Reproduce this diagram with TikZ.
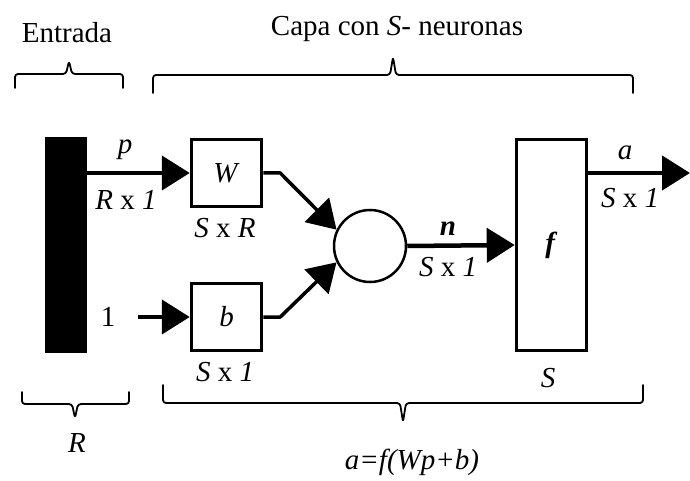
\documentclass[tikz,border=0pt]{standalone}
\usepackage{fontspec}
\setmainfont{Liberation Serif}
\usetikzlibrary{arrows.meta}
\begin{document}
\begin{tikzpicture}[x=1pt,y=-1pt,
  lbl/.style={font=\fontsize{29}{32}\selectfont, inner sep=0pt},
  blk/.style={draw, line width=3.5pt, inner sep=0pt, font=\fontsize{29}{32}\selectfont},
  conn/.style={line width=4.5pt, line join=round, -{Triangle[length=28pt,width=34pt]}},
  brace/.style={line width=1.8pt, line cap=round, line join=round, rounded corners=3pt},
]
\useasboundingbox (0,0) rectangle (690,481);
% blocks
\node[fill=black, minimum width=42pt, minimum height=216pt, inner sep=0pt] (bar) at (66,245) {};
\node[blk, minimum width=70pt, minimum height=67pt] (W) at (226.5,173) {\textit{W}};
\node[blk, minimum width=70pt, minimum height=67pt] (b) at (226.5,317) {\textit{b}};
\node[draw, circle, line width=2.5pt, minimum size=72pt, inner sep=0pt] (sum) at (370,246) {};
\node[blk, minimum width=70pt, minimum height=211pt] (f) at (551.5,245) {\textbf{\textit{f}}};
\coordinate (out) at (690,173);
% labels
\node[lbl] (entrada) at (67,33) {Entrada};
\node[lbl] (capa) at (397,29) {Capa con \textit{S}- neuronas};
\node[lbl] (one) at (108,317) {1};
\node[lbl] (plbl) at (125,150) {\textit{p}};
\node[lbl] (rx1) at (126,200) {\textit{R} x \textit{1}};
\node[lbl] (sxr) at (225,228) {\textit{S} x \textit{R}};
\node[lbl] (sx1b) at (225,372) {\textit{S} x \textit{1}};
\node[lbl] (nlbl) at (448,229) {\textbf{\textit{n}}};
\node[lbl] (sx1n) at (448,267) {\textit{S} x \textit{1}};
\node[lbl] (albl) at (625,153) {\textit{a}};
\node[lbl] (sx1a) at (630,198) {\textit{S} x \textit{1}};
\node[lbl] (slbl) at (548,378) {\textit{S}};
\node[lbl] (rlbl) at (77,443) {\textit{R}};
\node[lbl] (eq) at (412,462) {\textit{a=f(Wp+b)}};
% connectors
\draw[conn] (bar.east |- W.west) -- (W.west);
\draw[conn] ([xshift=23pt]one.east) -- (b.west);
\draw[conn, line width=3.5pt] (W.east) -- ++(17,0) -- (sum.154);
\draw[conn, line width=3.5pt] (b.east) -- ++(17,0) -- (sum.206);
\draw[conn] (sum.east) -- (f.west);
\draw[conn] (f.east |- W.east) -- (out);
% braces
\draw[brace] (15,88) |- (66,74) -- (69,61) -- (72,74) -| (123,88);
\draw[brace] (153,93) |- (390,75) -- (393,57) -- (396,75) -| (633,93);
\draw[brace] (22,392) |- (72,404) -- (75,418) -- (78,404) -| (129,392);
\draw[brace] (163,385) |- (400,403) -- (403,422) -- (406,403) -| (643,385);
\end{tikzpicture}
\end{document}
